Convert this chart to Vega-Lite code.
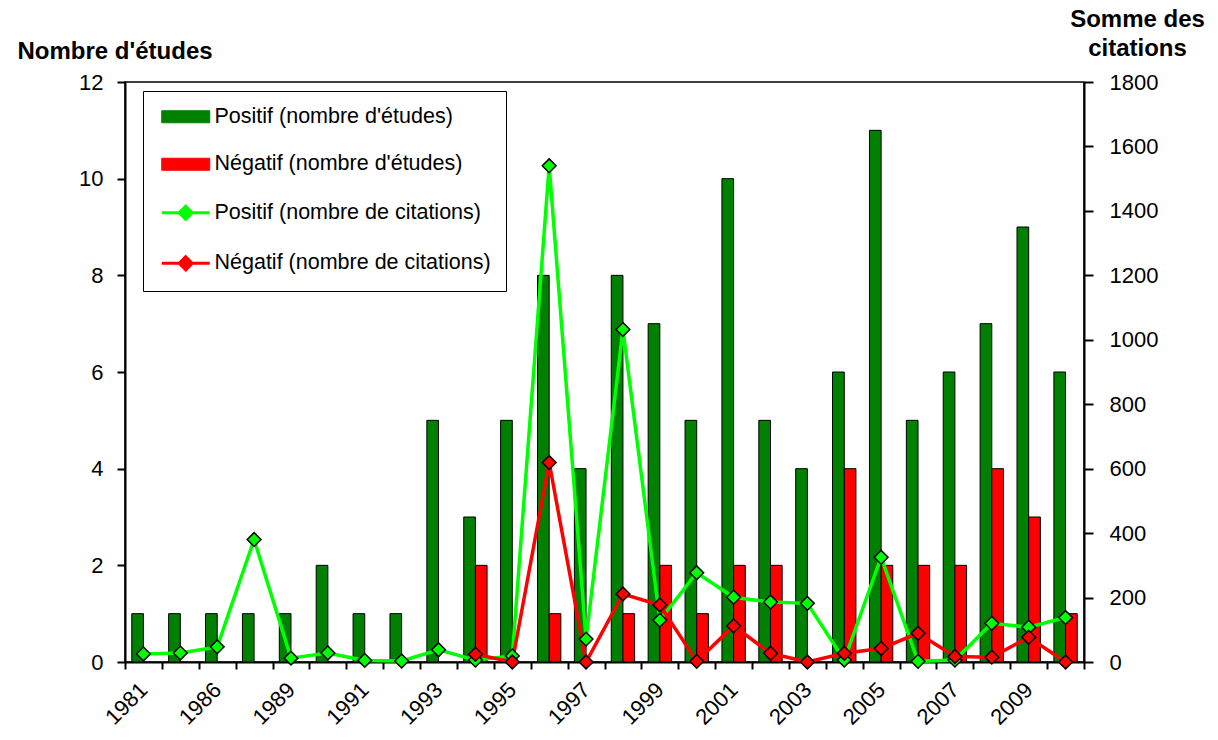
{
  "$schema": "https://vega.github.io/schema/vega-lite/v6.json",
  "width": 959,
  "height": 580,
  "autosize": {"type": "none"},
  "padding": {"left": 125, "top": 82, "right": 134, "bottom": 78},
  "background": "white",
  "config": {
    "font": "Liberation Sans",
    "view": {"stroke": "black", "strokeWidth": 1.5},
    "axis": {"domainColor": "black", "domainWidth": 2, "tickColor": "black", "tickWidth": 2, "labelColor": "black", "titleColor": "black", "grid": false, "labelFont": "Liberation Sans", "titleFont": "Liberation Sans"}
  },
  "datasets": {
    "etudes": [
      {"annee": "1981", "serie": "Positif (nombre d'études)", "n": 1},
      {"annee": "1984", "serie": "Positif (nombre d'études)", "n": 1},
      {"annee": "1986", "serie": "Positif (nombre d'études)", "n": 1},
      {"annee": "1988", "serie": "Positif (nombre d'études)", "n": 1},
      {"annee": "1989", "serie": "Positif (nombre d'études)", "n": 1},
      {"annee": "1990", "serie": "Positif (nombre d'études)", "n": 2},
      {"annee": "1991", "serie": "Positif (nombre d'études)", "n": 1},
      {"annee": "1992", "serie": "Positif (nombre d'études)", "n": 1},
      {"annee": "1993", "serie": "Positif (nombre d'études)", "n": 5},
      {"annee": "1994", "serie": "Positif (nombre d'études)", "n": 3},
      {"annee": "1995", "serie": "Positif (nombre d'études)", "n": 5},
      {"annee": "1996", "serie": "Positif (nombre d'études)", "n": 8},
      {"annee": "1997", "serie": "Positif (nombre d'études)", "n": 4},
      {"annee": "1998", "serie": "Positif (nombre d'études)", "n": 8},
      {"annee": "1999", "serie": "Positif (nombre d'études)", "n": 7},
      {"annee": "2000", "serie": "Positif (nombre d'études)", "n": 5},
      {"annee": "2001", "serie": "Positif (nombre d'études)", "n": 10},
      {"annee": "2002", "serie": "Positif (nombre d'études)", "n": 5},
      {"annee": "2003", "serie": "Positif (nombre d'études)", "n": 4},
      {"annee": "2004", "serie": "Positif (nombre d'études)", "n": 6},
      {"annee": "2005", "serie": "Positif (nombre d'études)", "n": 11},
      {"annee": "2006", "serie": "Positif (nombre d'études)", "n": 5},
      {"annee": "2007", "serie": "Positif (nombre d'études)", "n": 6},
      {"annee": "2008", "serie": "Positif (nombre d'études)", "n": 7},
      {"annee": "2009", "serie": "Positif (nombre d'études)", "n": 9},
      {"annee": "2010", "serie": "Positif (nombre d'études)", "n": 6},
      {"annee": "1994", "serie": "Négatif (nombre d'études)", "n": 2},
      {"annee": "1996", "serie": "Négatif (nombre d'études)", "n": 1},
      {"annee": "1998", "serie": "Négatif (nombre d'études)", "n": 1},
      {"annee": "1999", "serie": "Négatif (nombre d'études)", "n": 2},
      {"annee": "2000", "serie": "Négatif (nombre d'études)", "n": 1},
      {"annee": "2001", "serie": "Négatif (nombre d'études)", "n": 2},
      {"annee": "2002", "serie": "Négatif (nombre d'études)", "n": 2},
      {"annee": "2004", "serie": "Négatif (nombre d'études)", "n": 4},
      {"annee": "2005", "serie": "Négatif (nombre d'études)", "n": 2},
      {"annee": "2006", "serie": "Négatif (nombre d'études)", "n": 2},
      {"annee": "2007", "serie": "Négatif (nombre d'études)", "n": 2},
      {"annee": "2008", "serie": "Négatif (nombre d'études)", "n": 4},
      {"annee": "2009", "serie": "Négatif (nombre d'études)", "n": 3},
      {"annee": "2010", "serie": "Négatif (nombre d'études)", "n": 1}
    ],
    "citations": [
      {"annee": "1981", "serie": "Positif (nombre de citations)", "c": 25},
      {"annee": "1984", "serie": "Positif (nombre de citations)", "c": 28},
      {"annee": "1986", "serie": "Positif (nombre de citations)", "c": 47},
      {"annee": "1988", "serie": "Positif (nombre de citations)", "c": 380},
      {"annee": "1989", "serie": "Positif (nombre de citations)", "c": 12},
      {"annee": "1990", "serie": "Positif (nombre de citations)", "c": 28},
      {"annee": "1991", "serie": "Positif (nombre de citations)", "c": 5},
      {"annee": "1992", "serie": "Positif (nombre de citations)", "c": 3},
      {"annee": "1993", "serie": "Positif (nombre de citations)", "c": 38},
      {"annee": "1994", "serie": "Positif (nombre de citations)", "c": 6},
      {"annee": "1995", "serie": "Positif (nombre de citations)", "c": 19},
      {"annee": "1996", "serie": "Positif (nombre de citations)", "c": 1540},
      {"annee": "1997", "serie": "Positif (nombre de citations)", "c": 71},
      {"annee": "1998", "serie": "Positif (nombre de citations)", "c": 1032},
      {"annee": "1999", "serie": "Positif (nombre de citations)", "c": 130},
      {"annee": "2000", "serie": "Positif (nombre de citations)", "c": 277},
      {"annee": "2001", "serie": "Positif (nombre de citations)", "c": 201},
      {"annee": "2002", "serie": "Positif (nombre de citations)", "c": 186},
      {"annee": "2003", "serie": "Positif (nombre de citations)", "c": 182},
      {"annee": "2004", "serie": "Positif (nombre de citations)", "c": 6},
      {"annee": "2005", "serie": "Positif (nombre de citations)", "c": 325},
      {"annee": "2006", "serie": "Positif (nombre de citations)", "c": 2},
      {"annee": "2007", "serie": "Positif (nombre de citations)", "c": 6},
      {"annee": "2008", "serie": "Positif (nombre de citations)", "c": 120},
      {"annee": "2009", "serie": "Positif (nombre de citations)", "c": 108},
      {"annee": "2010", "serie": "Positif (nombre de citations)", "c": 138},
      {"annee": "1994", "serie": "Négatif (nombre de citations)", "c": 24},
      {"annee": "1995", "serie": "Négatif (nombre de citations)", "c": 0},
      {"annee": "1996", "serie": "Négatif (nombre de citations)", "c": 619},
      {"annee": "1997", "serie": "Négatif (nombre de citations)", "c": 0},
      {"annee": "1998", "serie": "Négatif (nombre de citations)", "c": 211},
      {"annee": "1999", "serie": "Négatif (nombre de citations)", "c": 177},
      {"annee": "2000", "serie": "Négatif (nombre de citations)", "c": 2},
      {"annee": "2001", "serie": "Négatif (nombre de citations)", "c": 112},
      {"annee": "2002", "serie": "Négatif (nombre de citations)", "c": 27},
      {"annee": "2003", "serie": "Négatif (nombre de citations)", "c": 0},
      {"annee": "2004", "serie": "Négatif (nombre de citations)", "c": 27},
      {"annee": "2005", "serie": "Négatif (nombre de citations)", "c": 42},
      {"annee": "2006", "serie": "Négatif (nombre de citations)", "c": 89},
      {"annee": "2007", "serie": "Négatif (nombre de citations)", "c": 17},
      {"annee": "2008", "serie": "Négatif (nombre de citations)", "c": 15},
      {"annee": "2009", "serie": "Négatif (nombre de citations)", "c": 77},
      {"annee": "2010", "serie": "Négatif (nombre de citations)", "c": 0}
    ]
  },
  "encoding": {
    "x": {
      "field": "annee",
      "type": "nominal",
      "title": null,
      "scale": {
        "domain": ["1981","1984","1986","1988","1989","1990","1991","1992","1993","1994","1995","1996","1997","1998","1999","2000","2001","2002","2003","2004","2005","2006","2007","2008","2009","2010"],
        "paddingInner": 0,
        "paddingOuter": 0
      },
      "axis": {
        "labelAngle": -45,
        "labelAlign": "right",
        "labelBaseline": "middle",
        "labelFontSize": 22,
        "labelOverlap": false,
        "labelPadding": 17,
        "tickBand": "extent",
        "tickSize": 7,
        "labelExpr": "indexof(['1981','1986','1989','1991','1993','1995','1997','1999','2001','2003','2005','2007','2009'], datum.value) >= 0 ? datum.value : ''"
      }
    },
    "color": {
      "field": "serie",
      "type": "nominal",
      "scale": {
        "domain": ["Positif (nombre d'études)", "Négatif (nombre d'études)", "Positif (nombre de citations)", "Négatif (nombre de citations)"],
        "range": ["#008000", "#FF0000", "#00FF00", "#FF0000"]
      },
      "legend": {
        "orient": "none",
        "legendX": 18,
        "legendY": 9,
        "title": null,
        "strokeColor": "black",
        "fillColor": "white",
        "padding": 15,
        "labelFont": "Liberation Sans",
        "labelFontSize": 21.5,
        "labelColor": "black",
        "labelOffset": 18,
        "labelLimit": 400,
        "symbolSize": 1764,
        "symbolOffset": 17,
        "rowPadding": 24.5,
        "encode": {
          "symbols": {
            "update": {
              "shape": {"signal": "(datum.value == 'Positif (nombre de citations)' || datum.value == 'Négatif (nombre de citations)') ? 'M-1.143,0H1.143M0,-0.31L0.31,0L0,0.31L-0.31,0Z' : 'M-1.143,-0.286H1.143V0.286H-1.143Z'"},
              "fill": {"scale": "color", "field": "value"},
              "stroke": {"signal": "datum.value == 'Positif (nombre de citations)' ? '#00FF00' : (datum.value == 'Négatif (nombre de citations)' ? '#FF0000' : 'black')"},
              "strokeWidth": {"signal": "(datum.value == 'Positif (nombre de citations)' || datum.value == 'Négatif (nombre de citations)') ? 3 : 1"},
              "opacity": {"value": 1}
            }
          }
        }
      }
    }
  },
  "layer": [
    {
      "data": {"name": "etudes"},
      "mark": {"type": "bar", "stroke": "black", "strokeWidth": 1, "opacity": 1},
      "encoding": {
        "xOffset": {
          "field": "serie",
          "type": "nominal",
          "scale": {"domain": ["Positif (nombre d'études)", "Négatif (nombre d'études)"], "paddingInner": 0, "paddingOuter": 0.58}
        },
        "y": {
          "field": "n",
          "type": "quantitative",
          "scale": {"domain": [0, 12], "nice": false},
          "axis": {
            "values": [0, 2, 4, 6, 8, 10, 12],
            "labelFontSize": 22,
            "labelPadding": 14,
            "tickSize": 8,
            "title": "Nombre d'études",
            "titleAngle": 0,
            "titleAlign": "left",
            "titleBaseline": "alphabetic",
            "titleX": -108,
            "titleY": -24,
            "titleFontSize": 24,
            "titleFontWeight": "bold"
          }
        }
      }
    },
    {
      "data": {"name": "citations"},
      "encoding": {
        "y": {
          "field": "c",
          "type": "quantitative",
          "scale": {"domain": [0, 1800], "nice": false},
          "axis": {
            "orient": "right",
            "values": [0, 200, 400, 600, 800, 1000, 1200, 1400, 1600, 1800],
            "format": "d",
            "labelFontSize": 22,
            "labelPadding": 16,
            "tickSize": 9,
            "title": ["Somme des", "citations"],
            "titleAngle": 0,
            "titleAlign": "center",
            "titleBaseline": "alphabetic",
            "titleX": 53,
            "titleY": -56,
            "titleLineHeight": 29,
            "titleFontSize": 24,
            "titleFontWeight": "bold"
          }
        }
      },
      "layer": [
        {"mark": {"type": "line", "strokeWidth": 3.5}},
        {"mark": {"type": "point", "shape": "diamond", "filled": true, "size": 190, "stroke": "black", "strokeWidth": 1.5, "opacity": 1}}
      ]
    }
  ],
  "resolve": {"scale": {"y": "independent"}}
}
